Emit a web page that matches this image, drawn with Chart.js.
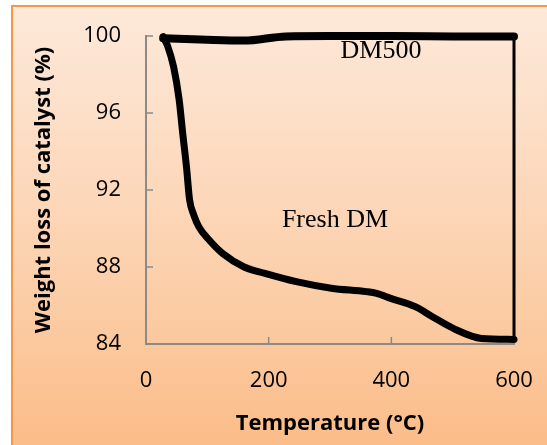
<!DOCTYPE html>
<html>
<head>
<meta charset="utf-8">
<script src="https://cdn.jsdelivr.net/npm/chart.js@4/dist/chart.umd.min.js"></script>
<style>
  body { margin: 0; background: #fff; }
  #wrap { width: 547px; height: 445px; }
</style>
</head>
<body>
<div id="wrap"><canvas id="tga" width="547" height="445"></canvas></div>
<script>
// TGA curves
const freshTemp = [28, 35, 45, 54, 60, 66, 71, 78, 86, 103, 125, 160, 194, 245, 302, 359, 376, 399, 439, 467, 501, 547, 600];
const freshWeight = [99.96, 99.5, 98.4, 96.7, 94.9, 93.2, 91.5, 90.7, 90.1, 89.4, 88.7, 88.0, 87.67, 87.24, 86.9, 86.72, 86.63, 86.37, 85.94, 85.42, 84.81, 84.29, 84.24];
const dm500Temp = [28, 100, 160, 228, 300, 400, 500, 600];
const dm500Weight = [99.88, 99.8, 99.76, 99.98, 100, 100, 99.98, 99.97];
const edgeTemp = [600, 600];
const edgeWeight = [100, 84.24];
const xTicks = [0, 200, 400, 600];
const yTicks = [84, 88, 92, 96, 100];

const toPoints = (xs, ys) => xs.map((x, i) => ({ x, y: ys[i] }));

const labelFont = "'Open Sans', 'DejaVu Sans', sans-serif";

// orange framed box with gradient fill
const backdrop = {
  id: "backdrop",
  beforeDraw(chart) {
    const { ctx, width, height } = chart;
    ctx.save();
    ctx.fillStyle = "#ffffff";
    ctx.fillRect(0, 0, width, height);
    const g = ctx.createLinearGradient(0, 5, 0, height);
    g.addColorStop(0, "#fde9da");
    g.addColorStop(0.5, "#fcd5b5");
    g.addColorStop(1, "#fbbd89");
    ctx.fillStyle = g;
    ctx.fillRect(11, 5, width, height);
    ctx.strokeStyle = "#f79646";
    ctx.lineWidth = 2;
    ctx.beginPath();
    ctx.moveTo(12, height + 2);
    ctx.lineTo(12, 6);
    ctx.lineTo(width + 2, 6);
    ctx.stroke();
    ctx.restore();
  }
};

// inward tick marks + series labels (under the lines)
const marks = {
  id: "marks",
  beforeDatasetsDraw(chart) {
    const { ctx, scales: { x, y } } = chart;
    ctx.save();
    ctx.strokeStyle = "#8a8a8a";
    ctx.lineWidth = 1.5;
    ctx.beginPath();
    yTicks.forEach(v => {
      const py = y.getPixelForValue(v);
      ctx.moveTo(x.left, py);
      ctx.lineTo(x.left + 7, py);
    });
    xTicks.forEach(v => {
      const px = x.getPixelForValue(v);
      ctx.moveTo(px, y.bottom);
      ctx.lineTo(px, y.bottom - 7);
    });
    ctx.stroke();

    ctx.fillStyle = "#000";
    ctx.font = "26px 'Liberation Serif', 'Times New Roman', serif";
    ctx.textAlign = "center";
    ctx.textBaseline = "alphabetic";
    ctx.fillText("DM500", 381, 58);
    ctx.fillText("Fresh DM", 335, 227);
    ctx.restore();
  }
};

const lineStyle = {
  borderColor: "#000",
  backgroundColor: "#000",
  pointRadius: 0,
  fill: false,
  clip: 10,
  borderCapStyle: "round",
  borderJoinStyle: "round",
  cubicInterpolationMode: "monotone"
};

new Chart(document.getElementById("tga"), {
  type: "line",
  data: {
    datasets: [
      { label: "Fresh DM", data: toPoints(freshTemp, freshWeight), borderWidth: 7, ...lineStyle },
      { label: "DM500", data: toPoints(dm500Temp, dm500Weight), borderWidth: 8, ...lineStyle },
      { label: "edge", data: toPoints(edgeTemp, edgeWeight), borderWidth: 3, ...lineStyle, cubicInterpolationMode: "default" }
    ]
  },
  options: {
    responsive: false,
    animation: false,
    layout: { padding: { top: 36, right: 33, left: 0, bottom: 0 } },
    plugins: { legend: { display: false }, tooltip: { enabled: false } },
    scales: {
      x: {
        type: "linear",
        min: 0,
        max: 600,
        afterBuildTicks: s => { s.ticks = xTicks.map(v => ({ value: v })); },
        afterFit: s => { s.height = 101; s.paddingLeft = 0; s.paddingRight = 0; },
        grid: { drawOnChartArea: false, drawTicks: false },
        border: { color: "#8a8a8a", width: 2 },
        ticks: { color: "#000", padding: 24, font: { family: labelFont, size: 22 } },
        title: {
          display: true,
          text: "Temperature (°C)",
          color: "#000",
          padding: { bottom: 8 },
          font: { family: labelFont, size: 22, weight: "bold" }
        }
      },
      y: {
        min: 84,
        max: 100,
        afterBuildTicks: s => { s.ticks = yTicks.map(v => ({ value: v })); },
        afterFit: s => { s.width = 146; s.paddingTop = 0; s.paddingBottom = 0; },
        grid: { drawOnChartArea: false, drawTicks: false },
        border: { color: "#8a8a8a", width: 2 },
        ticks: { color: "#000", padding: 25, font: { family: labelFont, size: 22 } },
        title: {
          display: true,
          text: "Weight loss of catalyst (%)",
          color: "#000",
          padding: { top: 31 },
          font: { family: labelFont, size: 22, weight: "bold" }
        }
      }
    }
  },
  plugins: [backdrop, marks]
});
</script>
</body>
</html>
